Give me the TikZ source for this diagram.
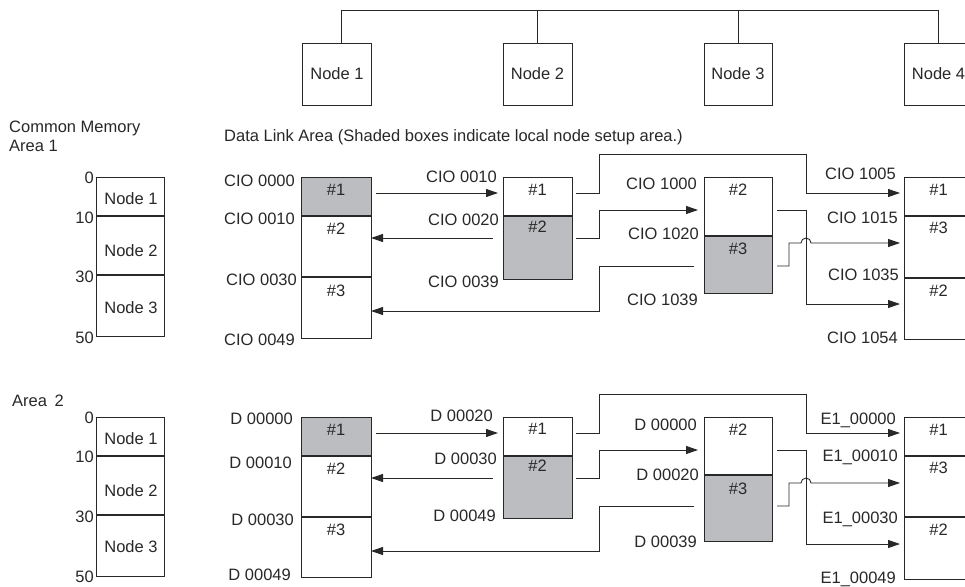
\documentclass[tikz,border=0pt]{standalone}
\usepackage{fontspec}
\setmainfont{Liberation Sans}
\usetikzlibrary{arrows.meta}
\definecolor{setupgray}{RGB}{188,189,192}
\definecolor{ink}{RGB}{40,40,40}
\newcommand{\mylinks}{%
  \draw[arr] (376,193) -- (498,193);
  \draw[arr] (493,238) -- (371,238);
  \draw[arr] (694,266) -- (599,266) -- (599,311) -- (371,311);
  \draw[arr] (576,193) -- (599,193) -- (599,154) -- (806,154) -- (806,193) -- (900,193);
  \draw[arr] (576,238) -- (599,238) -- (599,210) -- (698,210);
  \draw[arr] (777,210) -- (806,210) -- (806,304) -- (900,304);
  \draw[arr] (777,266) -- (789,266) -- (789,243) -- (801,243) arc[start angle=180,end angle=0,radius=5pt] -- (900,243);
}
\begin{document}
\begin{tikzpicture}[x=1pt,y=-1pt,
  every node/.style={font=\fontsize{16.5}{19}\selectfont, text=ink, inner sep=0pt},
  box/.style={draw=ink, line width=0.9pt},
  div/.style={draw=ink, line width=1.7pt},
  divthin/.style={draw=ink, line width=1.2pt},
  link/.style={draw=ink, line width=0.9pt},
  arr/.style={link, -{Triangle[length=12pt,width=8pt]}},
  setup/.style={fill=setupgray},
  lab/.style={anchor=base east},
  ctr/.style={anchor=base},
  lft/.style={anchor=base west}]
\useasboundingbox (0,0) rectangle (965,586);

% ---- network
\node[box, minimum width=69pt, minimum height=62pt] (n1) at (337,74) {Node 1};
\node[box, minimum width=69pt, minimum height=62pt] (n2) at (537.5,74) {Node 2};
\node[box, minimum width=68pt, minimum height=62pt] (n3) at (738,74) {Node 3};
\node (n4) at (938.5,74) {Node 4};
\draw[box] (965,43) -- (904,43) -- (904,105) -- (965,105);
\coordinate (b1) at (341,10);
\coordinate (b2) at (537,10);
\coordinate (b3) at (738,10);
\coordinate (b4) at (938,10);
\draw[link] (b1) -- (b4);
\foreach \i in {1,...,4} \draw[link] (b\i) -- (b\i |- n1.north);

% ---- headings
\node[lft] (cm) at (9,132) {Common Memory};
\node[lft] (ar1) at (9,151) {Area 1};
\node[lft] (dla) at (224,141) {Data Link Area (Shaded boxes indicate local node setup area.)};
\node[lft] (ar2) at (12,406) {Area\hspace{3pt} 2};

% ---- common memory maps
\draw[box] (96,177) rectangle (164,336);
\draw[div] (96,216) -- (164,216);
\draw[div] (96,275) -- (164,275);
\draw[box] (96,417) rectangle (164,576);
\draw[div] (96,456) -- (164,456);
\draw[div] (96,515) -- (164,515);
\foreach \t/\y [count=\i] in {0/183,10/223,30/282,50/343,0/423,10/462,30/522,50/582}
  \node[lab] (mn\i) at (94,\y) {\t};
\foreach \t/\y [count=\i] in {Node 1/204,Node 2/256,Node 3/313,Node 1/444,Node 2/496,Node 3/552}
  \node[ctr] (mt\i) at (131,\y) {\t};

% ---- data link blocks, area 1
\fill[setup] (301,177) rectangle (371,216);
\draw[box] (301,177) rectangle (371,338);
\draw[div] (301,216) -- (371,216);
\draw[div] (301,277) -- (371,277);
\fill[setup] (503,216) rectangle (572,279);
\draw[box] (503,177) rectangle (572,279);
\draw[div] (503,216) -- (572,216);
\fill[setup] (704,236) rectangle (772,293);
\draw[box] (704,177) rectangle (772,293);
\draw[div] (704,236) -- (772,236);
\draw[box] (965,177) -- (904,177) -- (904,339) -- (965,339);
\draw[divthin] (904,216) -- (965,216);
\draw[divthin] (904,278) -- (965,278);

% ---- data link blocks, area 2
\fill[setup] (301,417) rectangle (371,456);
\draw[box] (301,417) rectangle (371,577);
\draw[div] (301,456) -- (371,456);
\draw[div] (301,517) -- (371,517);
\fill[setup] (503,456) rectangle (572,518);
\draw[box] (503,417) rectangle (572,518);
\draw[div] (503,456) -- (572,456);
\fill[setup] (704,475) rectangle (772,541);
\draw[box] (704,417) rectangle (772,541);
\draw[div] (704,475) -- (772,475);
\draw[box] (965,417) -- (904,417) -- (904,579) -- (965,579);
\draw[divthin] (904,456) -- (965,456);
\draw[divthin] (904,517) -- (965,517);

% ---- section numbers
\foreach \t/\x/\y [count=\i] in {
  \#1/336/195,\#2/336/234,\#3/336/296,
  \#1/537.5/195,\#2/537.5/232,
  \#2/738/195,\#3/738/254,
  \#1/938.5/195,\#3/938.5/233,\#2/938.5/296,
  \#1/336/435,\#2/336/474,\#3/336/535,
  \#1/537.5/434,\#2/537.5/471,
  \#2/738/435,\#3/738/494,
  \#1/938.5/435,\#3/938.5/473,\#2/938.5/535}
  \node[ctr] (hs\i) at (\x,\y) {\t};

% ---- address labels
\foreach \t/\x/\y [count=\i] in {
  CIO 0000/295/186,CIO 0010/295/224,CIO 0030/297/285,CIO 0049/295/345,
  CIO 0010/497/182,CIO 0020/499/225,CIO 0039/499/287,
  CIO 1000/697/189,CIO 1020/699/239,CIO 1039/698/305,
  CIO 1005/896/179,CIO 1015/898/223,CIO 1035/899/280,CIO 1054/898/343,
  D 00000/293/424,D 00010/292/468,D 00030/294/525,D 00049/291/580,
  D 00020/493/421,D 00030/497/464,D 00049/496/521,
  D 00000/697/430,D 00020/699/480,D 00039/697/547,
  E1\_00000/896/424,E1\_00010/898/461,E1\_00030/898/523,E1\_00049/896/583}
  \node[lab] (ad\i) at (\x,\y) {\t};

% ---- data links
\mylinks
\begin{scope}[yshift=-240pt]
\mylinks
\end{scope}
\end{tikzpicture}
\end{document}
